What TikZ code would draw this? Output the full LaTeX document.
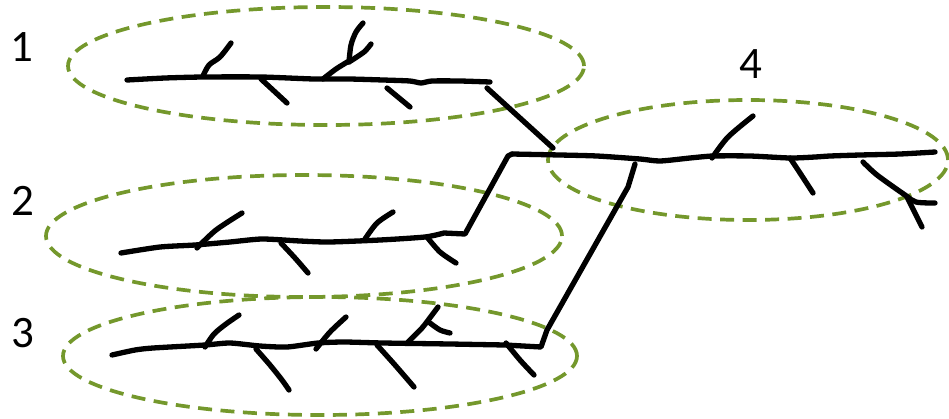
\documentclass[tikz,border=0pt]{standalone}
\usepackage{fontspec}
\setmainfont{Carlito}
\usetikzlibrary{shapes.geometric}
\definecolor{grpgreen}{RGB}{116,152,44}
\begin{document}
\begin{tikzpicture}[x=1pt,y=-1pt,
  ink/.style={line width=5.3pt, line cap=round, line join=round, black},
  twig/.style={ink},
  group/.style={draw=grpgreen, line width=3.7pt, dash pattern=on 14pt off 8.5pt, ellipse, inner sep=0pt},
  num/.style={font=\fontsize{45}{45}\selectfont, inner sep=0pt}]
\useasboundingbox (0,0) rectangle (949,418);

% group ellipses
\node[group, minimum width=516pt, minimum height=118pt] (g1) at (326,66) {};
\node[group, minimum width=516pt, minimum height=122pt] (g2) at (304,236) {};
\node[group, minimum width=514pt, minimum height=118pt] (g3) at (320,356) {};
\node[group, minimum width=400pt, minimum height=120pt] (g4) at (748,160) {};

% labels
\node[num] (l1) at (22,47) {1};
\node[num] (l2) at (23,201) {2};
\node[num] (l3) at (23,333) {3};
\node[num] (l4) at (751,64) {4};

% named end points of the spines
\coordinate (s1a) at (127,80);  \coordinate (s1b) at (490,82);
\coordinate (s2a) at (121,253); \coordinate (s2b) at (465,234);
\coordinate (s3a) at (112,355); \coordinate (s3b) at (541,347);
\coordinate (s4a) at (512,154); \coordinate (s4b) at (935,152);
\coordinate (c1a) at (487,88);  \coordinate (c1b) at (553,148);
\coordinate (c2b) at (508,156);
\coordinate (c3a) at (635,164);

% spine 1
\draw[ink] plot[smooth, tension=0.4] coordinates {(s1a) (165,78) (203,77) (261,77) (314,79) (349,79) (383,80) (410,81) (421,83) (432,81) (460,81) (s1b)};
\draw[twig] plot[smooth, tension=0.5] coordinates {(203,76) (209,65) (220,57) (231,43)};
\draw[twig] (261,79) -- (287,103);
\draw[twig] plot[smooth, tension=0.5] coordinates {(323,79) (336,69) (349,61)};
\draw[twig] plot[smooth, tension=0.5] coordinates {(349,62) (351,45) (356,32) (363,23)};
\draw[twig] plot[smooth, tension=0.5] coordinates {(349,62) (364,52) (371,44)};
\draw[twig] (387,88) -- (410,107);
% connector 1 -> 4
\draw[ink] (c1a) -- (c1b);

% spine 2 with its connector up to spine 4
\draw[ink] plot[smooth, tension=0.4] coordinates {(s2a) (160,247) (195,245) (230,242) (262,239) (300,241) (329,242) (380,240) (425,237) (444,233)} -- (s2b) -- (c2b) -- (s4a);
\draw[twig] plot[smooth, tension=0.5] coordinates {(197,248) (216,230) (242,213)};
\draw[twig] plot[smooth, tension=0.5] coordinates {(281,243) (295,258) (308,273)};
\draw[twig] plot[smooth, tension=0.5] coordinates {(365,239) (377,223) (393,212)};
\draw[twig] plot[smooth, tension=0.5] coordinates {(427,237) (440,252) (456,263)};

% spine 3 with its connector up to spine 4
\draw[ink] plot[smooth, tension=0.4] coordinates {(s3a) (135,350) (153,348) (205,345) (230,343) (260,346) (287,347) (318,343) (344,342) (383,343) (450,344) (505,345)} -- (s3b) -- (547,330) -- (628,187) -- (c3a);
\draw[twig] plot[smooth, tension=0.5] coordinates {(205,347) (214,334) (226,324) (239,315)};
\draw[twig] plot[smooth, tension=0.5] coordinates {(256,349) (270,365) (282,380) (289,390)};
\draw[twig] plot[smooth, tension=0.5] coordinates {(316,349) (330,332) (346,317)};
\draw[twig] plot[smooth, tension=0.5] coordinates {(408,342) (422,328) (432,315) (438,307)};
\draw[twig] plot[smooth, tension=0.5] coordinates {(430,323) (440,330) (450,333)};
\draw[twig] plot[smooth, tension=0.5] coordinates {(377,345) (395,365) (414,387)};
\draw[twig] plot[smooth, tension=0.5] coordinates {(506,343) (520,360) (534,375)};

% spine 4
\draw[ink] plot[smooth, tension=0.4] coordinates {(s4a) (560,155) (597,156) (640,159) (660,161) (690,158) (713,156) (750,156) (790,158) (815,157) (830,156) (860,155) (900,154) (s4b)};
\draw[twig] plot[smooth, tension=0.5] coordinates {(712,158) (728,137) (753,116)};
\draw[twig] plot[smooth, tension=0.5] coordinates {(790,158) (800,173) (813,193)};
\draw[twig] plot[smooth, tension=0.5] coordinates {(863,162) (877,175) (905,195) (916,202) (935,203)};
\draw[twig] plot[smooth, tension=0.5] coordinates {(907,197) (914,211) (922,227)};
\end{tikzpicture}
\end{document}
